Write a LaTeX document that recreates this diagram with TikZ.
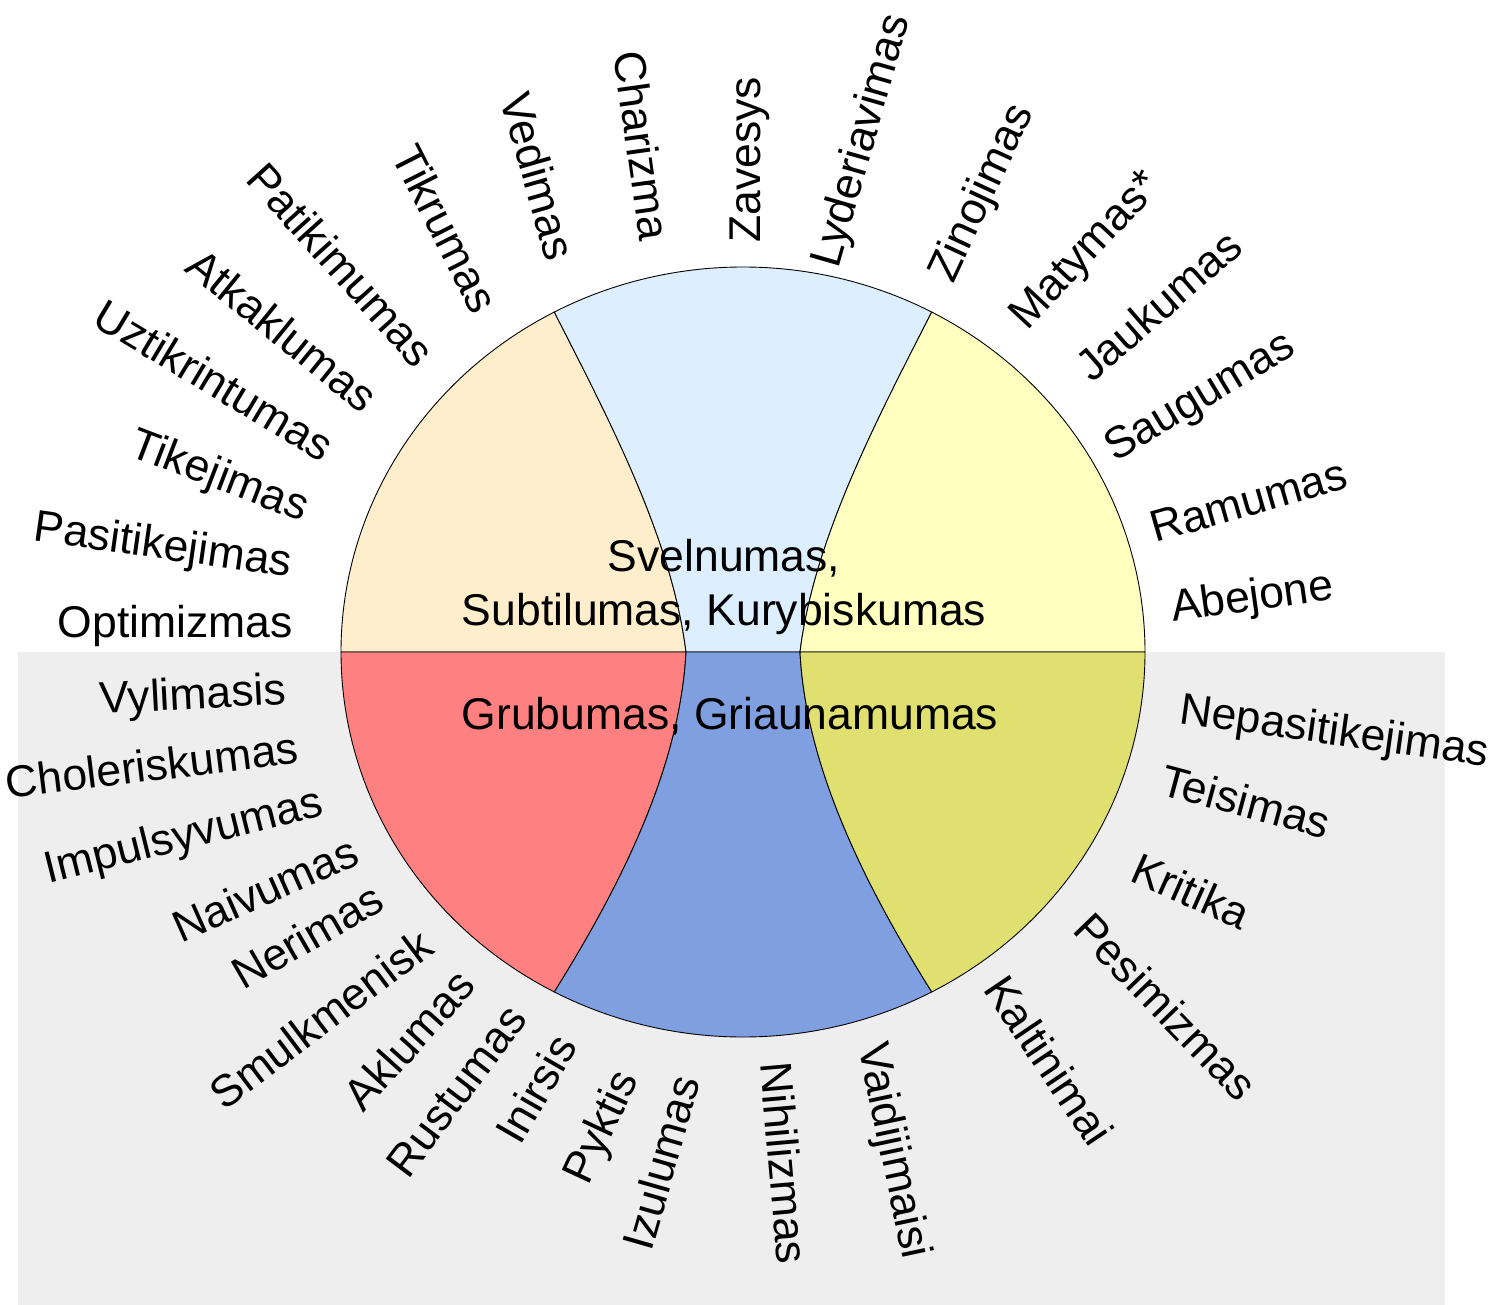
\documentclass[tikz,border=0pt]{standalone}
\usepackage{fontspec}
\setmainfont{Liberation Sans}
\usepackage{tikz}
\usetikzlibrary{calc}
\definecolor{SoftPeach}{HTML}{FFEECC}
\definecolor{SoftBlue}{HTML}{DDEEFF}
\definecolor{SoftYellow}{HTML}{FFFFC0}
\definecolor{HardRed}{HTML}{FF8080}
\definecolor{HardBlue}{HTML}{809FE0}
\definecolor{HardOlive}{HTML}{E0E070}
\definecolor{PaleGrey}{HTML}{EEEEEE}

\begin{document}
\begin{tikzpicture}[x=1pt, y=-1pt,
    every node/.style={inner sep=0pt, font=\fontsize{44.5}{54}\selectfont},
    inword/.style={anchor=base east},
    outword/.style={anchor=base west},
    part/.style={draw=black, line width=0.9pt}]
  \useasboundingbox (0,0) rectangle (1491,1305);
  \fill[PaleGrey] (18,652) rectangle (1445,1305);
%
  \coordinate (Centre)   at (743,652);
  \coordinate (LeftEnd)  at (341,652);
  \coordinate (RightEnd) at (1145,652);
  \coordinate (MidLeft)  at (686,652);
  \coordinate (MidRight) at (800,652);
  \coordinate (TopLeft)  at (554.27,312.06);
  \coordinate (TopRight) at (931.73,312.06);
  \coordinate (BotLeft)  at (554.27,991.94);
  \coordinate (BotRight) at (931.73,991.94);
%
  \filldraw[part, fill=SoftPeach] (TopLeft) %
    arc[start angle=118, end angle=180, x radius=402pt, y radius=385pt] %
    -- (MidLeft) .. controls (672,540) and (612,425) .. (TopLeft) -- cycle;
  \filldraw[part, fill=SoftBlue] (TopRight) %
    arc[start angle=62, end angle=118, x radius=402pt, y radius=385pt] %
    .. controls (612,425) and (672,540) .. (MidLeft) %
    -- (MidRight) .. controls (814,540) and (874,425) .. (TopRight) -- cycle;
  \filldraw[part, fill=SoftYellow] (RightEnd) %
    arc[start angle=0, end angle=62, x radius=402pt, y radius=385pt] %
    .. controls (874,425) and (814,540) .. (MidRight) -- cycle;
  \filldraw[part, fill=HardRed] (LeftEnd) %
    arc[start angle=180, end angle=242, x radius=402pt, y radius=385pt] %
    .. controls (618,890) and (680,770) .. (MidLeft) -- cycle;
  \filldraw[part, fill=HardBlue] (BotLeft) %
    arc[start angle=242, end angle=298, x radius=402pt, y radius=385pt] %
    .. controls (868,890) and (806,770) .. (MidRight) %
    -- (MidLeft) .. controls (680,770) and (618,890) .. (BotLeft) -- cycle;
  \filldraw[part, fill=HardOlive] (BotRight) %
    arc[start angle=298, end angle=360, x radius=402pt, y radius=385pt] %
    -- (MidRight) .. controls (806,770) and (868,890) .. (BotRight) -- cycle;
%
  \node[align=center] (Soft) at (724,587) {Svelnumas,\\Subtilumas, Kurybiskumas};
  \node[anchor=base] (Rough) at (730,729) {Grubumas, Griaunamumas};
%
  \node[inword, rotate=0]   (Optimizmas)    at (293,637) {Optimizmas};
  \node[inword, rotate=-8]  (Pasitikejimas) at (290,577) {Pasitikejimas};
  \node[inword, rotate=-21] (Tikejimas)     at (302,522) {Tikejimas};
  \node[inword, rotate=-31] (Uztikrintumas) at (322,463) {Uztikrintumas};
  \node[inword, rotate=-39] (Atkaklumas)    at (362,415) {Atkaklumas};
  \node[inword, rotate=-48] (Patikimumas)   at (415,370) {Patikimumas};
  \node[inword, rotate=-63] (Tikrumas)      at (473,317) {Tikrumas};
  \node[inword, rotate=-74] (Vedimas)       at (547,263) {Vedimas};
  \node[inword, rotate=-82] (Charizma)      at (640,242) {Charizma};
%
  \node[outword, rotate=90] (Zavesys)      at (760,243)  {Zavesys};
  \node[outword, rotate=74] (Lyderiavimas) at (838,270)  {Lyderiavimas};
  \node[outword, rotate=65] (Zinojimas)    at (953,285)  {Zinojimas};
  \node[outword, rotate=47] (Matymas)      at (1027,332) {Matymas*};
  \node[outword, rotate=41] (Jaukumas)     at (1092,384) {Jaukumas};
  \node[outword, rotate=31] (Saugumas)     at (1115,463) {Saugumas};
  \node[outword, rotate=16] (Ramumas)      at (1155,543) {Ramumas};
  \node[outword, rotate=8]  (Abejone)      at (1173,622) {Abejone};
%
  \node[outword, rotate=-8]  (Nepasitikejimas) at (1178,723) {Nepasitikejimas};
  \node[outword, rotate=-15] (Teisimas)        at (1158,794) {Teisimas};
  \node[outword, rotate=-24] (Kritika)         at (1128,880) {Kritika};
  \node[outword, rotate=-46] (Pesimizmas)      at (1071,931) {Pesimizmas};
  \node[outword, rotate=-56] (Kaltinimai)      at (982,989)  {Kaltinimai};
  \node[outword, rotate=-78] (Vaidijimaisi)    at (858,1046) {Vaidijimaisi};
  \node[outword, rotate=-85] (Nihilizmas)      at (760,1063) {Nihilizmas};
%
  \node[inword, rotate=3]  (Vylimasis)     at (287,704)  {Vylimasis};
  \node[inword, rotate=7]  (Choleriskumas) at (300,763)  {Choleriskumas};
  \node[inword, rotate=14] (Impulsyvumas)  at (325,815)  {Impulsyvumas};
  \node[inword, rotate=24] (Naivumas)      at (362,863)  {Naivumas};
  \node[inword, rotate=30] (Nerimas)       at (387,908)  {Nerimas};
  \node[inword, rotate=37] (Smulkmenisk)   at (436,952)  {Smulkmenisk};
  \node[inword, rotate=48] (Aklumas)       at (478,987)  {Aklumas};
  \node[inword, rotate=53] (Rustumas)      at (529,1020) {Rustumas};
  \node[inword, rotate=60] (Inirsis)       at (579,1046) {Inirsis};
  \node[inword, rotate=65] (Pyktis)        at (639,1079) {Pyktis};
  \node[inword, rotate=74] (Izulumas)      at (701,1081) {Izulumas};
\end{tikzpicture}
\end{document}
